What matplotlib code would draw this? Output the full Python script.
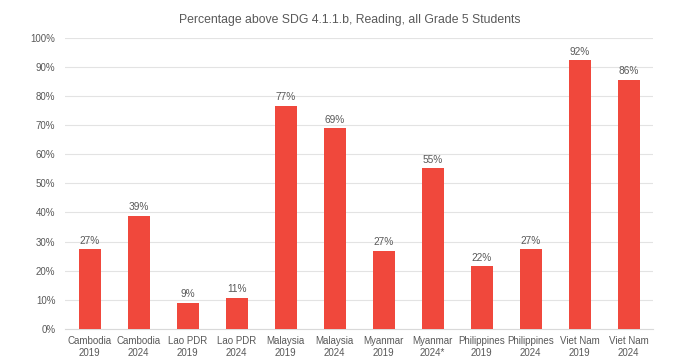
import matplotlib
matplotlib.use('Agg')
import matplotlib.pyplot as plt
import numpy as np

plt.rcParams['font.family'] = ['Liberation Sans', 'DejaVu Sans']

categories = ['Cambodia\n2019', 'Cambodia\n2024', 'Lao PDR\n2019', 'Lao PDR\n2024',
              'Malaysia\n2019', 'Malaysia\n2024', 'Myanmar\n2019', 'Myanmar\n2024*',
              'Philippines\n2019', 'Philippines\n2024', 'Viet Nam\n2019', 'Viet Nam\n2024']
values = [27.4, 38.8, 9.0, 10.7, 76.6, 69.0, 26.8, 55.2, 21.6, 27.4, 92.3, 85.6]

text_color = '#595959'
bar_color = '#F0483C'

fig = plt.figure(figsize=(7, 3.61), dpi=100)
ax = fig.add_axes([0.093, 0.089, 0.84, 0.806])

xpos = np.arange(len(categories))
bars = ax.bar(xpos, values, width=0.45, color=bar_color, zorder=3)

for x, v in zip(xpos, values):
    ax.text(x, v + 1.2, f'{round(v):.0f}%', ha='center', va='bottom',
            fontsize=7.3, color=text_color)

ax.set_xlim(-0.5, len(categories) - 0.5)
ax.set_ylim(0, 100)
ax.set_yticks(np.arange(0, 101, 10))
ax.set_yticklabels([f'{t}%' for t in range(0, 101, 10)])
ax.set_xticks(xpos)
ax.set_xticklabels(categories, linespacing=1.25)
ax.tick_params(axis='both', length=0, labelsize=7, colors=text_color)
ax.tick_params(axis='y', pad=7)
ax.tick_params(axis='x', pad=5)

ax.grid(axis='y', color='#e3e3e3', linewidth=0.8, zorder=0)
for s in ['top', 'right', 'left']:
    ax.spines[s].set_visible(False)
ax.spines['bottom'].set_color('#d9d9d9')
ax.spines['bottom'].set_linewidth(0.8)

fig.text(0.5, 0.945, 'Percentage above SDG 4.1.1.b, Reading, all Grade 5 Students',
         ha='center', va='center', fontsize=8.8, color=text_color)

fig.savefig('out.png', dpi=100)
